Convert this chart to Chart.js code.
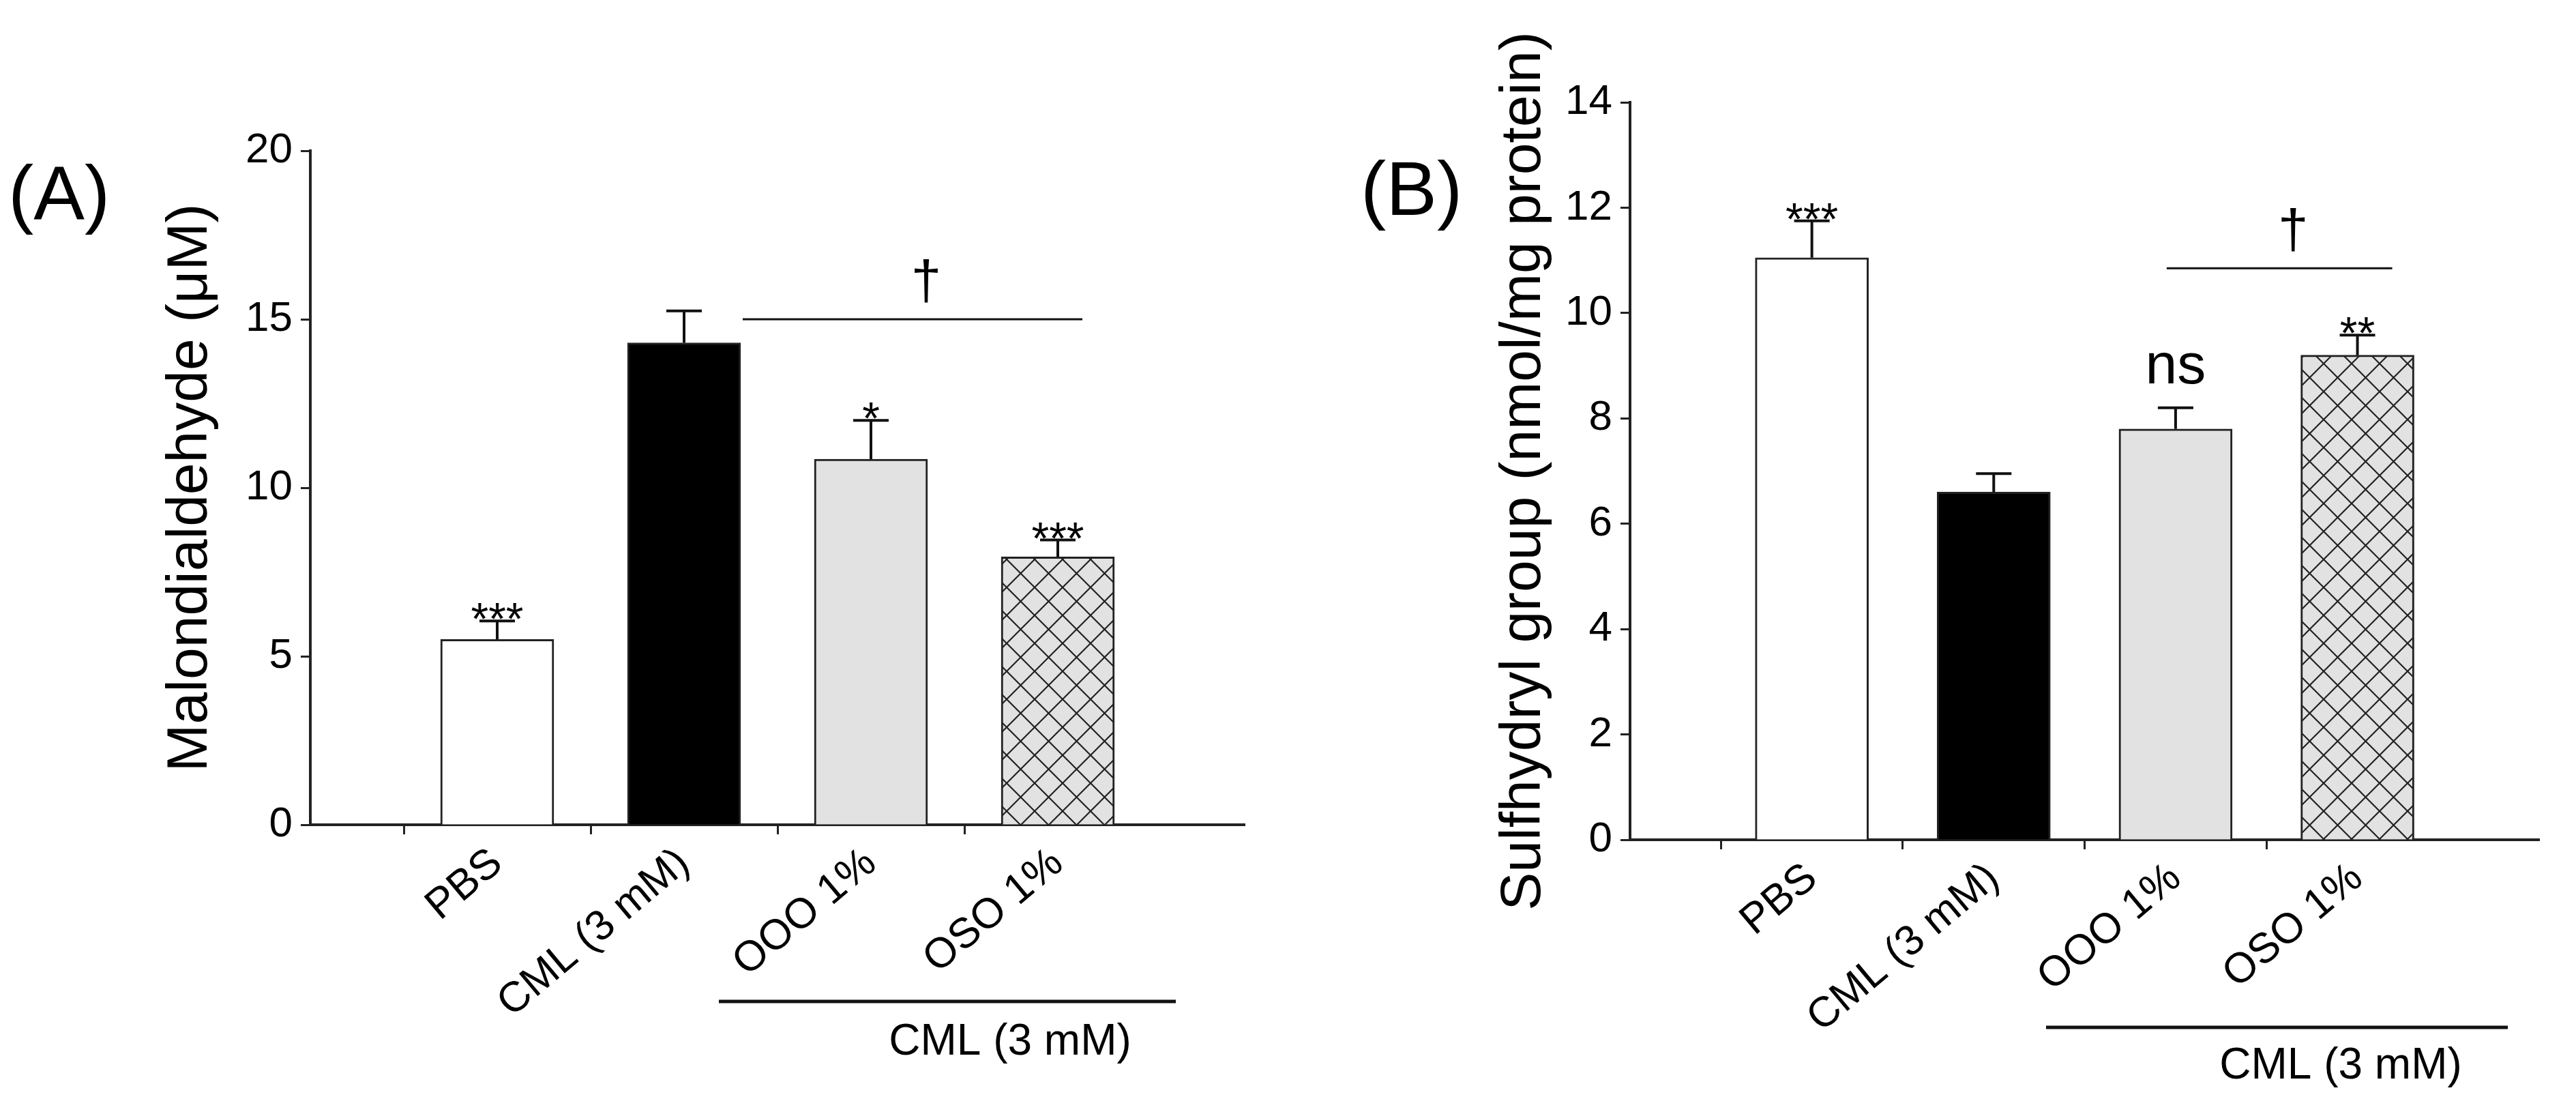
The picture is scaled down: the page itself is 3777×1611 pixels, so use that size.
<!DOCTYPE html>
<html>
<head>
<meta charset="utf-8">
<script src="https://cdn.jsdelivr.net/npm/chart.js@4.4.0/dist/chart.umd.min.js"></script>
<style>
  body { margin: 0; background: #fff; }
  .panel { position: absolute; top: 0; height: 1611px; }
  #wrapA { left: 0; width: 1890px; }
  #wrapB { left: 1890px; width: 1887px; }
</style>
</head>
<body>
<div class="panel" id="wrapA"><canvas id="chartA"></canvas></div>
<div class="panel" id="wrapB"><canvas id="chartB"></canvas></div>
<script>
// --- data ---
const categories = ['PBS', 'CML (3 mM)', 'OOO 1%', 'OSO 1%'];
const mdaValues = [5.5, 14.3, 10.85, 7.95];
const mdaErrors = [0.55, 0.95, 1.15, 0.5];
const mdaTicks = [0, 5, 10, 15, 20];
const shValues = [11.05, 6.6, 7.8, 9.2];
const shErrors = [0.7, 0.35, 0.4, 0.38];
const shTicks = [0, 2, 4, 6, 8, 10, 12, 14];
const mdaMarks = ['***', '', '*', '***'];
const shMarks = ['***', '', 'ns', '**'];

const FONT = '"Liberation Sans", Arial, sans-serif';

function hatch() {
  const c = document.createElement('canvas');
  c.width = 41; c.height = 41;
  const g = c.getContext('2d');
  g.fillStyle = '#e2e2e2';
  g.fillRect(0, 0, 41, 41);
  g.strokeStyle = '#222';
  g.lineWidth = 2.2;
  g.beginPath();
  g.moveTo(0, 0); g.lineTo(41, 41);
  g.moveTo(41, 0); g.lineTo(0, 41);
  g.stroke();
  return g.createPattern(c, 'repeat');
}

// error bars + significance text + brackets
const extras = {
  id: 'extras',
  afterDatasetsDraw(chart, args, o) {
    const ctx = chart.ctx, x = chart.scales.x, y = chart.scales.y;
    ctx.save();
    ctx.strokeStyle = '#111';
    ctx.fillStyle = '#000';
    ctx.lineWidth = 4;
    o.values.forEach((v, i) => {
      const cx = x.getPixelForValue(i + 1);
      const top = y.getPixelForValue(v + o.errors[i]);
      ctx.beginPath();
      ctx.moveTo(cx, y.getPixelForValue(v));
      ctx.lineTo(cx, top);
      ctx.moveTo(cx - 26, top);
      ctx.lineTo(cx + 26, top);
      ctx.stroke();
      if (o.marks[i]) {
        const ns = o.marks[i] === 'ns';
        ctx.font = (ns ? '84px ' : '66px ') + FONT;
        ctx.textAlign = 'center';
        ctx.textBaseline = 'alphabetic';
        ctx.fillText(o.marks[i], cx, top - (ns ? 36 : 10) + (o.marks[i].startsWith('*') ? 30 : 0));
      }
    });
    // dagger bracket between OOO and OSO
    const ly = y.getPixelForValue(o.daggerAt);
    const x1 = x.getPixelForValue(3) + o.daggerFrom, x2 = x.getPixelForValue(4) + o.daggerTo;
    ctx.lineWidth = 3;
    ctx.beginPath(); ctx.moveTo(x1, ly); ctx.lineTo(x2, ly); ctx.stroke();
    ctx.font = '80px ' + FONT;
    ctx.textAlign = 'center';
    ctx.fillText('\u2020', (x1 + x2) / 2 + 20, ly - 30);
    // CML group line under rotated labels
    ctx.lineWidth = 5;
    ctx.beginPath(); ctx.moveTo(o.groupLine[0], o.groupLine[2]); ctx.lineTo(o.groupLine[1], o.groupLine[2]); ctx.stroke();
    ctx.font = '64px ' + FONT;
    ctx.textBaseline = 'middle';
    ctx.fillText('CML (3 mM)', o.groupText[0], o.groupText[1]);
    // y title
    ctx.save();
    ctx.translate(o.titleX, (chart.chartArea.top + chart.chartArea.bottom) / 2);
    ctx.rotate(-Math.PI / 2);
    ctx.font = '84px ' + FONT;
    ctx.fillText(o.title, 0, 0);
    ctx.restore();
    // panel letter
    ctx.font = '112px ' + FONT;
    ctx.textAlign = 'left';
    ctx.fillText(o.letter[0], o.letter[1], o.letter[2]);
    ctx.restore();
  }
};

function makeChart(id, values, errors, ticks, marks, cfg) {
  const labels = ['', ...categories, ''];
  const ymax = ticks[ticks.length - 1];
  return new Chart(document.getElementById(id), {
    type: 'bar',
    data: {
      labels: labels,
      datasets: [{
        data: [null, ...values, null],
        backgroundColor: ['#fff', '#fff', '#000', '#e2e2e2', hatch(), '#fff'],
        borderColor: '#222',
        borderWidth: 3,
        borderSkipped: 'bottom',
        barThickness: 166
      }]
    },
    options: {
      responsive: true,
      maintainAspectRatio: false,
      animation: false,
      layout: { padding: { top: cfg.top, right: cfg.right, left: 0, bottom: 0 } },
      plugins: {
        legend: { display: false },
        tooltip: { enabled: false },
        extras: {
          values: values, errors: errors, marks: marks,
          daggerAt: cfg.daggerAt, daggerFrom: cfg.daggerFrom, daggerTo: cfg.daggerTo,
          groupLine: cfg.groupLine, groupText: cfg.groupText,
          title: cfg.title, titleX: cfg.titleX, letter: cfg.letter
        }
      },
      scales: {
        x: {
          offset: false,
          afterFit: s => { s.height = cfg.xHeight; },
          border: { color: '#222', width: 4 },
          grid: {
            drawOnChartArea: false, tickLength: 14, tickWidth: 3,
            tickColor: c => (c.index === 0 || c.index === labels.length - 1) ? 'rgba(0,0,0,0)' : '#222'
          },
          ticks: {
            autoSkip: false, minRotation: 40, maxRotation: 40, padding: 6,
            color: '#000', font: { family: FONT, size: 62 }
          }
        },
        y: {
          min: 0, max: ymax,
          afterFit: s => { s.width = cfg.yWidth; },
          afterBuildTicks: s => { s.ticks = ticks.map(v => ({ value: v })); },
          border: { color: '#222', width: 4 },
          grid: { drawOnChartArea: false, tickLength: 14, tickWidth: 3, color: '#222' },
          ticks: { padding: 12, color: '#000', font: { family: FONT, size: 62 } }
        }
      }
    },
    plugins: [extras]
  });
}

makeChart('chartA', mdaValues, mdaErrors, mdaTicks, mdaMarks, {
  top: 221, right: 65, xHeight: 402, yWidth: 455,
  daggerAt: 15, daggerFrom: -188, daggerTo: 36,
  groupLine: [1054, 1724, 1468], groupText: [1481, 1528],
  title: 'Malondialdehyde (\u03bcM)', titleX: 280, letter: ['(A)', 12, 290]
});
makeChart('chartB', shValues, shErrors, shTicks, shMarks, {
  top: 150, right: 25, xHeight: 380, yWidth: 500,
  daggerAt: 10.85, daggerFrom: -13, daggerTo: 51,
  groupLine: [1110, 1787, 1506], groupText: [1542, 1563],
  title: 'Sulfhydryl group (nmol/mg protein)', titleX: 345, letter: ['(B)', 105, 284]
});
</script>
</body>
</html>
